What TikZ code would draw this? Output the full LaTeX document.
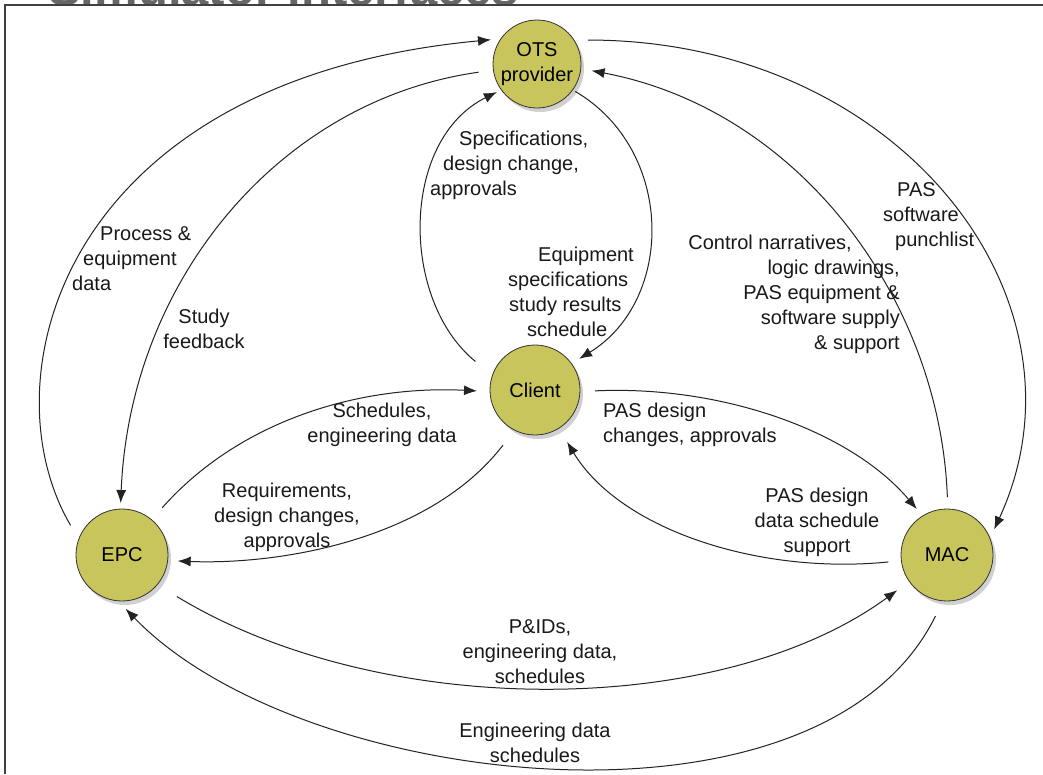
\documentclass[tikz,border=0pt]{standalone}
\usepackage{fontspec}
\setmainfont{Liberation Sans}
\usetikzlibrary{arrows.meta,shadows}
\definecolor{olivefill}{RGB}{200,197,92}
\definecolor{linec}{RGB}{35,35,35}
\begin{document}
\begin{tikzpicture}[x=1pt,y=-1pt,
  party/.style={circle, draw=black!80, line width=0.8pt, fill=olivefill, inner sep=0pt, outer sep=0pt,
    font=\fontsize{20}{25}\selectfont, align=center,
    drop shadow={shadow xshift=3pt, shadow yshift=-4pt, opacity=0.3, fill=black!60}},
  lbl/.style={font=\fontsize{20}{25}\selectfont, inner sep=0pt, text=black!90},
  flow/.style={draw=linec, line width=1pt, -{Latex[length=13pt,width=10pt]}},
]
\clip (0,0) rectangle (1043,774);
\fill[white] (0,0) rectangle (1043,774);
\node[font=\bfseries\fontsize{49}{50}\selectfont, text=black!60, anchor=base west, inner sep=0pt] (title) at (48,5) {Simulator interfaces};
\draw[black!75, line width=1.2pt] (5,774) -- (5,5) -- (1043,5);

\node[party, minimum size=88pt] (ots) at (537,64) {OTS\\provider};
\node[party, minimum size=90pt] (client) at (535,390) {Client};
\node[party, minimum size=92pt] (epc) at (122,555) {EPC};
\node[party, minimum size=92pt] (mac) at (947,555) {MAC};

\draw[flow, shorten <=16pt, shorten >=10pt] (epc.160) .. controls (-15,380) and (60,80) .. (ots.145);
\draw[flow, shorten <=15pt, shorten >=6pt] (ots.188) .. controls (280,100) and (130,280) .. (epc.92);
\draw[flow, shorten <=22pt, shorten >=5pt] (client.161) .. controls (400,300) and (400,140) .. (ots.216);
\draw[flow, shorten <=3pt, shorten >=9pt] (ots.-36) .. controls (675,150) and (675,300) .. (client.36);
\draw[flow, shorten <=19pt, shorten >=10pt] (client.243) .. controls (430,540) and (280,565) .. (epc.-7);
\draw[flow, shorten <=16pt, shorten >=13pt] (epc.50) .. controls (240,420) and (360,385) .. (client.182);
\draw[flow, shorten <=15pt, shorten >=9pt] (client.-2) .. controls (720,385) and (850,430) .. (mac.122);
\draw[flow, shorten <=13pt, shorten >=16pt] (mac.187) .. controls (760,575) and (620,530) .. (client.-58);
\draw[flow, shorten <=12pt, shorten >=11pt] (mac.89) .. controls (940,300) and (800,110) .. (ots.-6);
\draw[flow, shorten <=14pt, shorten >=10pt] (ots.33) .. controls (900,40) and (1100,300) .. (mac.21);
\draw[flow, shorten <=23pt, shorten >=15pt] (epc.-40) .. controls (380,720) and (720,720) .. (mac.215);
\draw[flow, shorten <=17pt, shorten >=11pt] (mac.265) .. controls (820,850) and (300,790) .. (epc.-95);

\node[lbl, align=left, anchor=west] (lprocess) at (72,259) {\hspace*{28pt}Process \&\\\hspace*{11pt}equipment\\data};
\node[lbl, align=center] (lstudy) at (204,329) {Study\\feedback};
\node[lbl, align=left, anchor=west] (lspec) at (430,165) {\hspace*{29pt}Specifications,\\\hspace*{13pt}design change,\\approvals};
\node[lbl, align=left, anchor=west] (lequip) at (508,292) {\hspace*{30pt}Equipment\\specifications\\\hspace*{1pt}study results\\\hspace*{19pt}schedule};
\node[lbl, align=right, anchor=east] (lcontrol) at (900,294) {Control narratives,\hspace*{48pt}\\logic drawings,\hspace*{35pt}\\PAS equipment \&\hspace*{22pt}\\software supply\hspace*{8pt}\\\& support};
\node[lbl, align=left, anchor=west] (lpunch) at (883,217) {\hspace*{14pt}PAS\\software\\\hspace*{12pt}punchlist};
\node[lbl, align=center] (lsched) at (382,425) {Schedules,\\engineering data};
\node[lbl, align=center] (lreq) at (287,517) {Requirements,\\design changes,\\approvals};
\node[lbl, align=left, anchor=west] (lpasdc) at (603,425) {PAS design\\changes, approvals};
\node[lbl, align=center] (lpasdd) at (817,522) {PAS design\\data schedule\\support};
\node[lbl, align=center] (lpid) at (540,652) {P\&IDs,\\engineering data,\\schedules};
\node[lbl, align=center] (leng) at (535,743) {Engineering data\\schedules};
\end{tikzpicture}
\end{document}
